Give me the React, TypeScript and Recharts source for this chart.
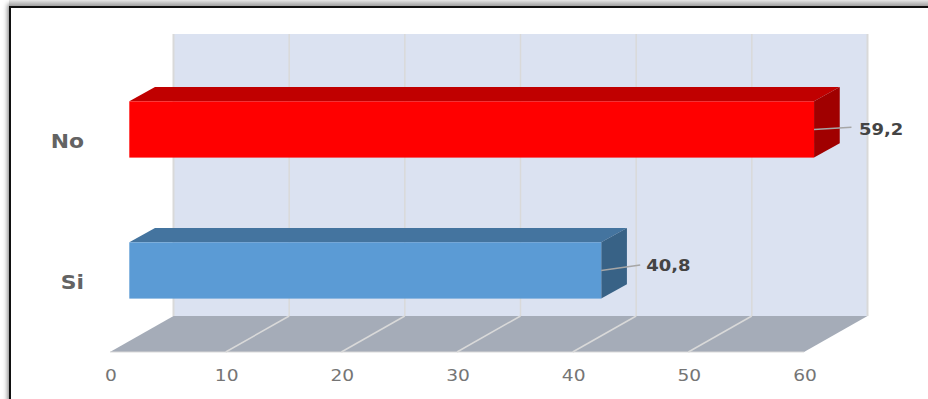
import React from 'react'
import { BarChart, Bar, XAxis, YAxis, ReferenceArea, LabelList } from 'recharts'

const categories = ['No', 'Si']
const values = [59.2, 40.8]
const xTicks = [0, 10, 20, 30, 40, 50, 60]
const gridValues = [10, 20, 30, 40, 50]

const data = categories.map((name, i) => ({ name, value: values[i] }))

// faces of each box: front, top, side
const barFaces = [
  { front: '#ff0000', top: '#c00000', side: '#a00000' },
  { front: '#5b9bd5', top: '#44749f', side: '#386286' }
]

// oblique projection offsets
const WALL_DX = 63.5
const WALL_DY = -36
const BAR_SHIFT_X = 19.3
const BAR_SHIFT_Y = -10.7
const BAR_DX = 25.7
const BAR_DY = -14.4

// leader line end and label baseline, per bar
const LEADER_DX = [37.4, 39]
const LEADER_DY = [-2.2, -5.5]
const LABEL_GAP = [7.6, 6]
const LABEL_BASELINE = [7.6, 6.4]
const FONT = '"DejaVu Sans", Verdana, sans-serif'

const Wall = ({ x, y, width, height }: any) => (
  <g>
    <polygon
      points={`${x + WALL_DX},${y + WALL_DY} ${x + width + WALL_DX},${y + WALL_DY} ${x + width + WALL_DX},${y + height + WALL_DY} ${x + WALL_DX},${y + height + WALL_DY}`}
      fill="#dbe2f1"
    />
    <polygon
      points={`${x},${y + height} ${x + width},${y + height} ${x + width + WALL_DX},${y + height + WALL_DY} ${x + WALL_DX},${y + height + WALL_DY}`}
      fill="#a5acb8"
    />
    <line x1={x + WALL_DX} x2={x + WALL_DX} y1={y + WALL_DY} y2={y + height + WALL_DY} stroke="#d9d9d9" strokeWidth={2} />
    <line x1={x + width + WALL_DX} x2={x + width + WALL_DX} y1={y + WALL_DY} y2={y + height + WALL_DY} stroke="#d9d9d9" strokeWidth={2} />
    <line x1={x} x2={x + width} y1={y + height} y2={y + height} stroke="#d9d9d9" />
  </g>
)

// zero-width area at a tick value: one line up the wall, one across the floor
const GridLine = ({ x, y, height }: any) => (
  <g stroke="#d9d9d9" strokeWidth={1.5} fill="none">
    <line x1={x + WALL_DX} x2={x + WALL_DX} y1={y + WALL_DY} y2={y + height + WALL_DY} />
    <line x1={x} x2={x + WALL_DX} y1={y + height} y2={y + height + WALL_DY} />
  </g>
)

const BoxBar = ({ x, y, width, height, index }: any) => {
  const faces = barFaces[index]
  const l = x + BAR_SHIFT_X
  const t = y + BAR_SHIFT_Y
  const r = l + width
  const b = t + height
  return (
    <g>
      <polygon points={`${l},${t} ${r},${t} ${r + BAR_DX},${t + BAR_DY} ${l + BAR_DX},${t + BAR_DY}`} fill={faces.top} />
      <polygon points={`${r},${t} ${r + BAR_DX},${t + BAR_DY} ${r + BAR_DX},${b + BAR_DY} ${r},${b}`} fill={faces.side} />
      <rect x={l} y={t} width={width} height={height} fill={faces.front} />
    </g>
  )
}

const ValueLabel = ({ x, y, width, height, value, index }: any) => {
  const startX = x + BAR_SHIFT_X + width
  const startY = y + BAR_SHIFT_Y + height / 2
  const endX = startX + LEADER_DX[index]
  const endY = startY + LEADER_DY[index]
  return (
    <g>
      <line x1={startX} y1={startY} x2={endX} y2={endY} stroke="#a6a6a6" strokeWidth={1.5} />
      <text
        transform={`translate(${endX + LABEL_GAP[index]},${endY + LABEL_BASELINE[index]}) scale(1.16,1)`}
        fontFamily={FONT}
        fontWeight="bold"
        fontSize={15.5}
        fill="#444444"
      >
        {String(value).replace('.', ',')}
      </text>
    </g>
  )
}

const CategoryTick = ({ x, y, payload }: any) => (
  <text
    transform={`translate(${x - 18},${y + 7}) scale(1.15,1)`}
    textAnchor="end"
    fontFamily={FONT}
    fontWeight="bold"
    fontSize={19}
    fill="#636363"
  >
    {payload.value}
  </text>
)

const ValueTick = ({ x, payload }: any) => (
  <text
    transform={`translate(${x + 1},381) scale(1.2,1)`}
    textAnchor="middle"
    fontFamily={FONT}
    fontSize={15.5}
    fill="#757575"
  >
    {payload.value}
  </text>
)

export default function App() {
  return (
    <div style={{ position: 'absolute', left: 0, top: 0, width: 928, height: 399, overflow: 'hidden', background: '#fff' }}>
      <div
        style={{
          position: 'absolute',
          left: 9,
          top: 6,
          width: 940,
          height: 420,
          boxSizing: 'border-box',
          border: '2px solid #111',
          boxShadow: '-1px -2px 5px rgba(0,0,0,0.55)'
        }}
      />
      <div
        style={{
          position: 'absolute',
          left: 9,
          top: 0,
          width: 919,
          height: 6,
          background: 'linear-gradient(#e6e6e6, #a0a0a0)'
        }}
      />
      <div style={{ position: 'absolute', left: 0, top: 0 }}>
        <BarChart
          width={928}
          height={399}
          data={data}
          layout="vertical"
          margin={{ top: 70, right: 124, bottom: 0, left: 0 }}
          barSize={56.3}
        >
          <XAxis
            type="number"
            domain={[0, 60]}
            ticks={xTicks}
            interval={0}
            height={47}
            axisLine={false}
            tickLine={false}
            tick={<ValueTick />}
          />
          <YAxis
            type="category"
            dataKey="name"
            width={110}
            axisLine={false}
            tickLine={false}
            tick={<CategoryTick />}
          />
          <ReferenceArea x1={0} x2={60} shape={<Wall />} />
          {gridValues.map((v) => (
            <ReferenceArea key={v} x1={v} x2={v} shape={<GridLine />} />
          ))}
          <Bar dataKey="value" shape={<BoxBar />} isAnimationActive={false}>
            <LabelList dataKey="value" content={<ValueLabel />} />
          </Bar>
        </BarChart>
      </div>
    </div>
  )
}
